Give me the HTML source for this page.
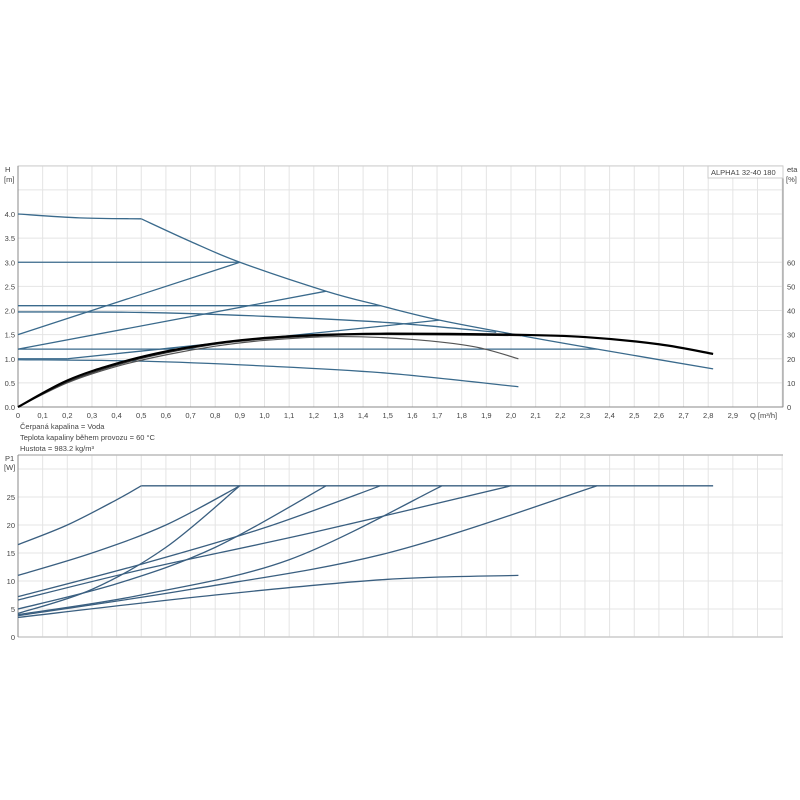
<!DOCTYPE html>
<html><head><meta charset="utf-8"><style>
html,body{margin:0;padding:0;background:#fff;}
svg{display:block;font-family:"Liberation Sans",sans-serif;}
</style></head><body>
<svg id="s" width="800" height="800" xmlns="http://www.w3.org/2000/svg"></svg>
<script>
const s=document.getElementById('s');
const X0=18,DX=246.5;const X=q=>X0+q*DX;
const Y=h=>407-h*48.25;const P=w=>637-w*5.6;
let out='';
// top grid
for(let i=0;i<=31;i++){const x=X(i/10);out+=`<line x1="${x}" y1="166" x2="${x}" y2="407" stroke="#e4e4e4" stroke-width="1"/>`;}
for(let i=0;i<=10;i++){const y=Y(i*0.5);out+=`<line x1="18" y1="${y}" x2="783" y2="${y}" stroke="#e4e4e4" stroke-width="1"/>`;}
out+=`<rect x="18" y="166" width="765" height="241" fill="none" stroke="#cfcfcf"/>`;
out+=`<line x1="18" y1="166" x2="18" y2="407" stroke="#888"/><line x1="18" y1="407" x2="783" y2="407" stroke="#888"/><line x1="783" y1="166" x2="783" y2="407" stroke="#888"/>`;
// bottom grid
for(let i=0;i<=31;i++){const x=X(i/10);out+=`<line x1="${x}" y1="455" x2="${x}" y2="637" stroke="#e4e4e4"/>`;}
for(let i=0;i<=6;i++){const y=P(i*5);out+=`<line x1="18" y1="${y}" x2="783" y2="${y}" stroke="#e4e4e4"/>`;}
out+=`<line x1="18" y1="455" x2="783" y2="455" stroke="#bbb" stroke-width="1.5"/><line x1="18" y1="637" x2="783" y2="637" stroke="#ccc" stroke-width="1.5"/><line x1="18" y1="455" x2="18" y2="637" stroke="#888"/>`;
// labels
const T=(x,y,t,a='start')=>out+=`<text x="${x}" y="${y}" font-size="7.5" fill="#444" text-anchor="${a}">${t}</text>`;
for(let i=0;i<=29;i++){let t=i==0?'0':(i/10).toFixed(1).replace('.',',');T(X(i/10),418,t,'middle');}
T(750,418,'Q [m³/h]');
for(let i=0;i<=8;i++){T(15,Y(i*0.5)+3,(i*0.5).toFixed(1),'end');}
T(5,172,'H');T(4,182,'[m]');
for(let i=0;i<=6;i++){T(787,Y(i*0.5)+3,String(i*10));}
T(787,172,'eta');T(786,182,'[%]');
out+=`<rect x="708" y="166" width="75" height="12" fill="#fff" stroke="#ccc"/>`;T(711,175,'ALPHA1 32-40 180');
T(20,429,'Čerpaná kapalina = Voda');T(20,440,'Teplota kapaliny během provozu = 60 °C');T(20,451,'Hustota = 983.2 kg/m³');
for(let i=0;i<=5;i++){T(15,P(i*5)+3,String(i*5),'end');}
T(5,461,'P1');T(4,470,'[W]');
// curves
function cr(pts){let d=`M${pts[0][0]},${pts[0][1]}`;for(let i=0;i<pts.length-1;i++){const p0=pts[i-1]||pts[i],p1=pts[i],p2=pts[i+1],p3=pts[i+2]||p2;
d+=` C${p1[0]+(p2[0]-p0[0])/6},${p1[1]+(p2[1]-p0[1])/6} ${p2[0]-(p3[0]-p1[0])/6},${p2[1]-(p3[1]-p1[1])/6} ${p2[0]},${p2[1]}`;}return d;}
const H=(pts,c='#3a6a8c',w=1.3)=>out+=`<path d="${cr(pts.map(p=>[X(p[0]),Y(p[1])]))}" fill="none" stroke="${c}" stroke-width="${w}"/>`;
const W=(pts,c='#3a5f80',w=1.3)=>out+=`<path d="${cr(pts.map(p=>[X(p[0]),P(p[1])]))}" fill="none" stroke="${c}" stroke-width="${w}"/>`;
H([[0,4],[0.25,3.92],[0.5,3.9]]);
H([[0.5,3.9],[0.7,3.43],[0.9,3.0],[1.25,2.4],[1.47,2.1],[1.71,1.8],[2.04,1.48],[2.35,1.2],[2.82,0.79]]);
H([[0,3],[0.9,3]]);H([[0,1.5],[0.9,3]]);H([[0,2.1],[1.47,2.1]]);H([[0,1.2],[1.25,2.4]]);
H([[0,1.97],[0.5,1.96],[1,1.88],[1.5,1.75],[1.94,1.55]]);
H([[0,1.2],[2.35,1.2]]);H([[0,1],[0.2,1]]);H([[0.2,1],[1.71,1.8]]);
H([[0,0.98],[0.5,0.95],[1,0.85],[1.5,0.7],[2.03,0.42]]);
// eta
H([[0,0],[0.2,0.5],[0.4,0.84],[0.6,1.08],[0.8,1.26],[1,1.38],[1.3,1.46],[1.6,1.4],[1.85,1.25],[2.03,1.0]],'#555',1.2);
H([[0,0],[0.2,0.52],[0.4,0.87],[0.6,1.12],[0.8,1.3],[1,1.41],[1.3,1.49],[1.6,1.5],[2.04,1.48]],'#333',1.2);
H([[0,0],[0.2,0.55],[0.4,0.9],[0.6,1.15],[0.8,1.32],[1,1.43],[1.2,1.49],[1.5,1.52],[2,1.5],[2.3,1.45],[2.6,1.3],[2.82,1.1]],'#000',2.2);
// power
W([[0.5,27],[2.82,27]]);
W([[0,16.5],[0.2,20],[0.4,24.5],[0.5,27]]);
W([[0,11],[0.3,15],[0.6,20],[0.9,27]]);
W([[0,4.2],[0.3,8.5],[0.6,16],[0.9,27]]);
W([[0,5],[0.4,9.5],[0.8,16],[1.25,27]]);
W([[0,7.2],[0.5,13],[1,19.5],[1.47,27]]);
W([[0,6.6],[0.5,12],[1.2,18.7],[2.0,27]]);
W([[0,4.0],[0.5,7.5],[1.1,13.8],[1.72,27]]);
W([[0,3.8],[0.7,8.5],[1.5,15],[2.35,27]]);
W([[0,3.5],[0.8,7.5],[1.5,10.3],[2.03,11]]);
s.innerHTML=out;
</script>
</body></html>
